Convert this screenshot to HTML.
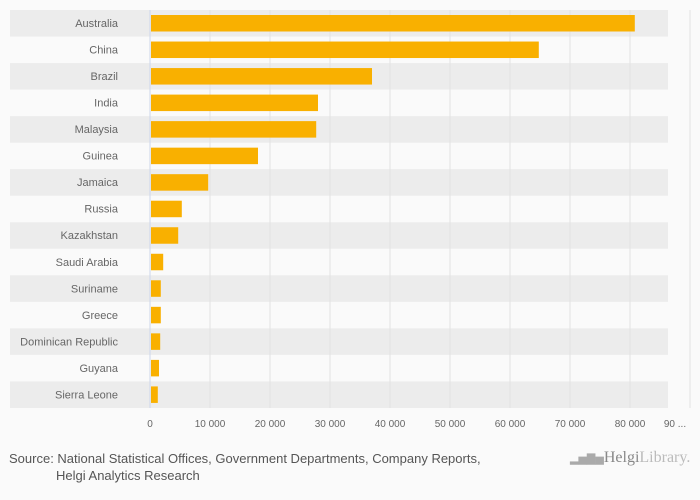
<!DOCTYPE html>
<html><head><meta charset="utf-8"><style>
body{margin:0;background:#fafafa;font-family:"Liberation Sans",sans-serif}
svg text{font-family:"Liberation Sans",sans-serif}
</style></head><body>
<svg id="c" width="700" height="500" style="position:absolute;left:0;top:0"></svg>
<script>
const categories=["Australia","China","Brazil","India","Malaysia","Guinea","Jamaica","Russia","Kazakhstan","Saudi Arabia","Suriname","Greece","Dominican Republic","Guyana","Sierra Leone"];
const values=[80800,64800,37000,28000,27700,18000,9700,5300,4700,2200,1800,1800,1700,1500,1300];
const ticks=[0,10000,20000,30000,40000,50000,60000,70000,80000,90000];
const tickLabels=["0","10 000","20 000","30 000","40 000","50 000","60 000","70 000","80 000","90 ..."];
const NS="http://www.w3.org/2000/svg",svgEl=document.getElementById('c');
const x0=150,topY=10,rowH=26.53;
const xs=v=>x0+v*0.006;
function mk(t,a){const e=document.createElementNS(NS,t);for(const k in a)e.setAttribute(k,a[k]);svgEl.appendChild(e);return e;}
categories.forEach((c,i)=>{
 const y=topY+i*rowH;
 if(i%2==0){const s=mk('rect',{x:10,y:y,width:658,height:rowH,fill:'#ececec'});
 
 }
});
ticks.forEach((t,i)=>{
 if(i>0){const l=mk('line',{x1:xs(t),x2:xs(t),y1:topY,y2:topY+15*rowH,stroke:'#e2e2e2'});
 
 }
 const tx=mk('text',{x:i==9?675:xs(t),y:427,'font-size':10,fill:'#666','text-anchor':'middle'});
 tx.textContent=tickLabels[i];
 
 
});
const ax=mk('line',{x1:x0,x2:x0,y1:topY,y2:topY+15*rowH,stroke:'#ccd6eb'});


categories.forEach((c,i)=>{
 const y=topY+i*rowH;
 const b=mk('rect',{x:x0+1,y:y+5,width:xs(values[i])-x0-1,height:16.5,fill:'#f9b000'});
 
 
 const t=mk('text',{x:118,y:y+17,'font-size':11,fill:'#666','text-anchor':'end'});
 t.textContent=c;
 
 
});
</script>
<div style="position:absolute;left:9px;top:450px;font-size:13px;color:#555;line-height:17px">Source: National Statistical Offices, Government Departments, Company Reports,<br><span style="padding-left:47px">Helgi Analytics Research</span></div>
<div style="position:absolute;left:570px;top:449px;white-space:nowrap;font-family:'Liberation Serif',serif;font-size:16px;color:#999"><span style="font-size:11px;color:#aaa">▂▅▇▅</span><span style="color:#888">Helgi</span><span style="color:#bbb">Library.</span></div>
</body></html>
